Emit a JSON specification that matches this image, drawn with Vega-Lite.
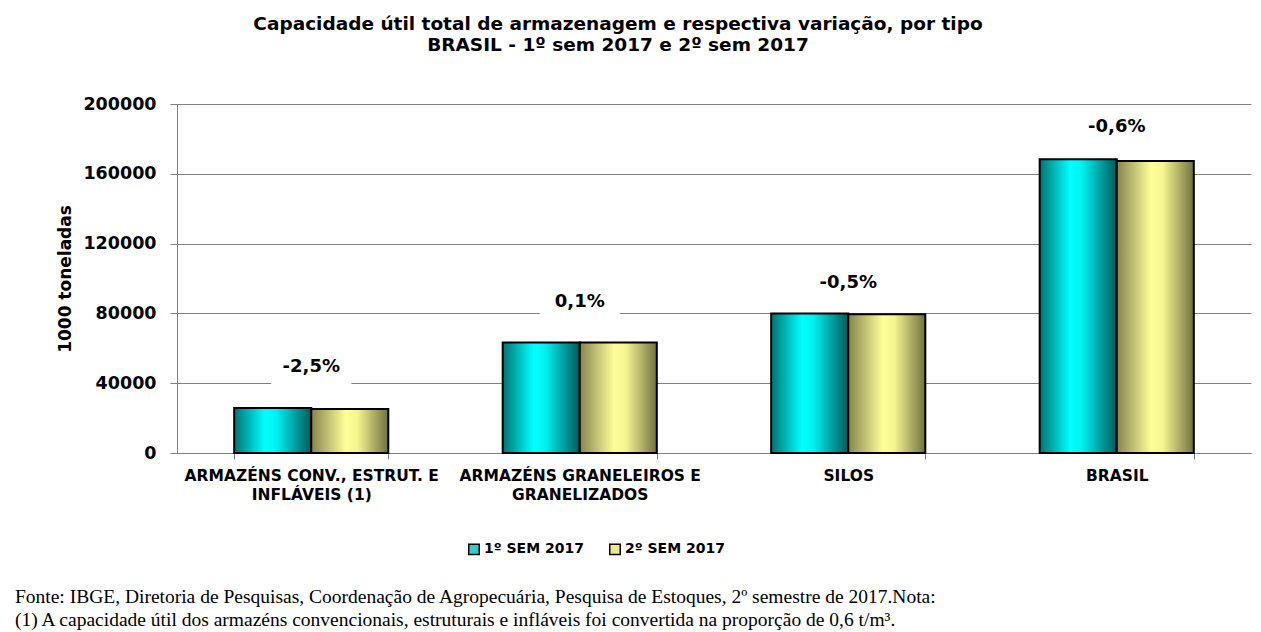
{
  "$schema": "https://vega.github.io/schema/vega-lite/v6.json",
  "background": "white",
  "padding": {"left": 14, "top": 14, "right": 10, "bottom": 5},
  "datasets": {
    "barras": [
      {"categoria": "ARMAZÉNS CONV., ESTRUT. E|INFLÁVEIS (1)", "serie": "1º SEM 2017", "valor": 25800},
      {"categoria": "ARMAZÉNS CONV., ESTRUT. E|INFLÁVEIS (1)", "serie": "2º SEM 2017", "valor": 25150},
      {"categoria": "ARMAZÉNS GRANELEIROS E|GRANELIZADOS", "serie": "1º SEM 2017", "valor": 63300},
      {"categoria": "ARMAZÉNS GRANELEIROS E|GRANELIZADOS", "serie": "2º SEM 2017", "valor": 63350},
      {"categoria": "SILOS", "serie": "1º SEM 2017", "valor": 79900},
      {"categoria": "SILOS", "serie": "2º SEM 2017", "valor": 79500},
      {"categoria": "BRASIL", "serie": "1º SEM 2017", "valor": 168300},
      {"categoria": "BRASIL", "serie": "2º SEM 2017", "valor": 167300}
    ],
    "variacao": [
      {"categoria": "ARMAZÉNS CONV., ESTRUT. E|INFLÁVEIS (1)", "rotulo": "-2,5%", "pos": 49200, "lo": 38500, "hi": 58500},
      {"categoria": "ARMAZÉNS GRANELEIROS E|GRANELIZADOS", "rotulo": "0,1%", "pos": 86400, "lo": 77000, "hi": 96000},
      {"categoria": "SILOS", "rotulo": "-0,5%", "pos": 97300, "lo": 88000, "hi": 106000},
      {"categoria": "BRASIL", "rotulo": "-0,6%", "pos": 186700, "lo": 178000, "hi": 195000}
    ]
  },
  "title": {
    "text": ["Fonte: IBGE, Diretoria de Pesquisas, Coordenação de Agropecuária, Pesquisa de Estoques, 2º semestre de 2017.Nota:", "(1) A capacidade útil dos armazéns convencionais, estruturais e infláveis foi convertida na proporção de 0,6 t/m³."],
    "orient": "bottom",
    "anchor": "start",
    "font": "Liberation Serif",
    "fontSize": 19.5,
    "fontWeight": "normal",
    "color": "black",
    "lineHeight": 23,
    "dx": -42,
    "offset": 30
  },
  "vconcat": [
    {
      "width": 1074,
      "height": 349,
      "title": {
        "text": ["Capacidade útil total de armazenagem e respectiva variação, por tipo", "BRASIL - 1º sem 2017 e 2º sem 2017"],
        "font": "DejaVu Sans",
        "fontSize": 18.5,
        "fontWeight": "bold",
        "color": "black",
        "lineHeight": 21,
        "anchor": "middle",
        "dx": -96,
        "offset": 41
      },
      "layer": [
        {
          "data": {"name": "barras"},
          "mark": {"type": "bar"},
          "encoding": {
            "x": {"field": "categoria", "type": "nominal", "sort": null,
                  "scale": {"paddingInner": 0.426, "paddingOuter": 0.213},
                  "axis": {"title": null, "labelAngle": 0, "labelExpr": "split(datum.label, '|')", "tickBand": "extent", "labelLimit": 0,
                           "labelFont": "DejaVu Sans", "labelFontWeight": "bold", "labelFontSize": 15.5, "labelColor": "black",
                           "labelLineHeight": 19, "labelPadding": 9, "tickSize": 6, "tickColor": "#808080", "domainColor": "#808080", "grid": false}},
            "xOffset": {"field": "serie", "type": "nominal", "scale": {"domain": ["1º SEM 2017", "2º SEM 2017"]}},
            "y": {"field": "valor", "type": "quantitative",
                  "scale": {"domain": [0, 200000]},
                  "axis": {"title": "1000 toneladas", "values": [0, 40000, 80000, 120000, 160000, 200000], "format": "d",
                           "labelFont": "DejaVu Sans", "labelFontWeight": "bold", "labelFontSize": 17.5, "labelColor": "black", "labelPadding": 14,
                           "titleFont": "DejaVu Sans", "titleFontWeight": "bold", "titleFontSize": 17, "titleColor": "black", "titlePadding": 8,
                           "tickSize": 7, "tickColor": "#808080", "domainColor": "#808080", "gridColor": "#808080", "gridWidth": 1}},
            "color": {"field": "serie", "type": "nominal",
                      "scale": {"domain": ["1º SEM 2017", "2º SEM 2017"], "range": ["#33CCCC", "#F0E68C"]},
                      "legend": {"title": null, "orient": "none", "direction": "horizontal", "legendX": 290, "legendY": 438,
                                 "symbolType": "square", "symbolSize": 110, "symbolStrokeColor": "black", "symbolStrokeWidth": 1.5,
                                 "labelFont": "DejaVu Sans", "labelFontWeight": "bold", "labelFontSize": 14, "labelColor": "black",
                                 "columnPadding": 22, "labelOffset": 3}}
          }
        },
        {
          "data": {"name": "barras"},
          "mark": {"type": "bar", "stroke": "black", "strokeWidth": 2},
          "encoding": {
            "x": {"field": "categoria", "type": "nominal", "sort": null},
            "xOffset": {"field": "serie", "type": "nominal"},
            "y": {"field": "valor", "type": "quantitative"},
            "fill": {
              "condition": {"test": "datum.serie === '1º SEM 2017'",
                "value": {"gradient": "linear", "x1": 0, "y1": 0, "x2": 1, "y2": 0,
                          "stops": [{"offset": 0, "color": "#007373"}, {"offset": 0.4, "color": "#00FFFF"}, {"offset": 0.55, "color": "#00F0F0"}, {"offset": 1, "color": "#005A5A"}]}},
              "value": {"gradient": "linear", "x1": 0, "y1": 0, "x2": 1, "y2": 0,
                        "stops": [{"offset": 0, "color": "#85854F"}, {"offset": 0.45, "color": "#FFFF99"}, {"offset": 0.6, "color": "#F5F590"}, {"offset": 1, "color": "#707040"}]}
            }
          }
        },
        {
          "data": {"name": "variacao"},
          "mark": {"type": "bar", "color": "white", "size": 80},
          "encoding": {
            "x": {"field": "categoria", "type": "nominal", "sort": null},
            "y": {"field": "lo", "type": "quantitative"},
            "y2": {"field": "hi"}
          }
        },
        {
          "data": {"name": "variacao"},
          "mark": {"type": "text", "font": "DejaVu Sans", "fontWeight": "bold", "fontSize": 18, "color": "black", "baseline": "middle"},
          "encoding": {
            "x": {"field": "categoria", "type": "nominal", "sort": null},
            "y": {"field": "pos", "type": "quantitative"},
            "text": {"field": "rotulo"}
          }
        }
      ]
    }
  ],
  "config": {
    "view": {"stroke": null}
  }
}
